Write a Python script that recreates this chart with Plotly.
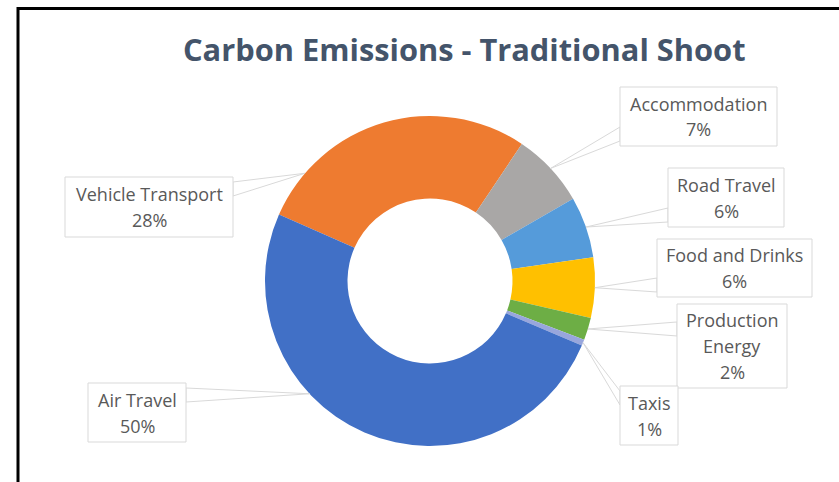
import math
import plotly.graph_objects as go

# ---- data ----
categories = ["Vehicle Transport", "Accommodation", "Road Travel", "Food and Drinks",
              "Production Energy", "Taxis", "Air Travel"]
values = [27.8, 7.3, 6.0, 5.9, 2.2, 0.6, 50.2]
colors = ["#EE7B30", "#A9A7A6", "#559BDA", "#FFC000", "#6DAE45", "#98A6DC", "#4170C6"]

# ---- layout constants (page pixels) ----
W, H = 839, 482
CX, CY, R = 430, 281, 165
HOLE = 0.5
START = -66.25  # clockwise degrees from 12 o'clock where first slice starts

boxes = {  # x0, y0, x1, y1
    "Vehicle Transport": (65, 177, 233, 237),
    "Accommodation": (620, 87, 777, 146),
    "Road Travel": (668, 168, 784, 227),
    "Food and Drinks": (657, 239, 812, 297),
    "Production Energy": (677, 304, 787, 388),
    "Taxis": (620, 386, 678, 445),
    "Air Travel": (88, 383, 186, 442),
}
tip_frac = {"Vehicle Transport": 0.17, "Air Travel": 0.63}
wrap = {"Production Energy": ["Production", "Energy"]}
LINE = 26
LABEL_FONT = dict(family="Open Sans", size=18, color="#595959")


def px(x):
    return x / W


def py(y):
    return 1 - y / H


fig = go.Figure()
fig.add_trace(go.Pie(
    labels=categories, values=values, sort=False, direction="clockwise",
    rotation=START, hole=HOLE, textinfo="none", hoverinfo="label+percent",
    marker=dict(colors=colors, line=dict(width=0)),
    domain=dict(x=[px(CX - R), px(CX + R)], y=[py(CY + R), py(CY - R)]),
    showlegend=False,
))

shapes = []
annotations = []
total = sum(values)
acc = 0.0
for name, v in zip(categories, values):
    a0 = START + acc / total * 360
    a1 = START + (acc + v) / total * 360
    acc += v
    f = tip_frac.get(name, 0.5)
    ang = math.radians(a0 + (a1 - a0) * f)
    tx = CX + R * math.sin(ang)
    ty = CY - R * math.cos(ang)
    x0, y0, x1, y1 = boxes[name]
    ex = x0 if x0 > CX else x1
    c = min(max(ty, y0 + 12), y1 - 12)
    path = "M {} {} L {} {} L {} {} Z".format(px(ex), py(c - 7), px(tx), py(ty), px(ex), py(c + 7))
    shapes.append(dict(type="path", xref="paper", yref="paper", path=path,
                       fillcolor="white", line=dict(color="#D9D9D9", width=1)))
    shapes.append(dict(type="rect", xref="paper", yref="paper",
                       x0=px(x0), x1=px(x1), y0=py(y1), y1=py(y0),
                       fillcolor="white", line=dict(color="#D9D9D9", width=1)))
    lines = wrap.get(name, [name]) + ["{}%".format(round(v / total * 100))]
    cyb = (y0 + y1) / 2
    n = len(lines)
    for i, t in enumerate(lines):
        yy = cyb + (i - (n - 1) / 2) * LINE
        annotations.append(dict(text=t, x=px((x0 + x1) / 2), y=py(yy), xref="paper", yref="paper",
                                xanchor="center", yanchor="middle", showarrow=False,
                                font=LABEL_FONT))

# border (left and top)
shapes.append(dict(type="path", xref="paper", yref="paper",
                   path="M {} {} L {} {} L {} {}".format(px(18), py(H + 5), px(18), py(8.5),
                                                        px(W + 5), py(8.5)),
                   line=dict(color="black", width=3)))

annotations.append(dict(text="<b>Carbon Emissions - Traditional Shoot</b>", x=px(464), y=py(49),
                        xref="paper", yref="paper", xanchor="center", yanchor="middle",
                        showarrow=False, font=dict(family="Open Sans", size=30.8, color="#44546A")))

fig.update_layout(width=W, height=H, margin=dict(l=0, r=0, t=0, b=0),
                  paper_bgcolor="white", plot_bgcolor="white",
                  shapes=shapes, annotations=annotations)
fig.write_html("out.html", config={"displayModeBar": False},
               post_script="document.body.style.margin='0';document.body.style.overflow='hidden';")
